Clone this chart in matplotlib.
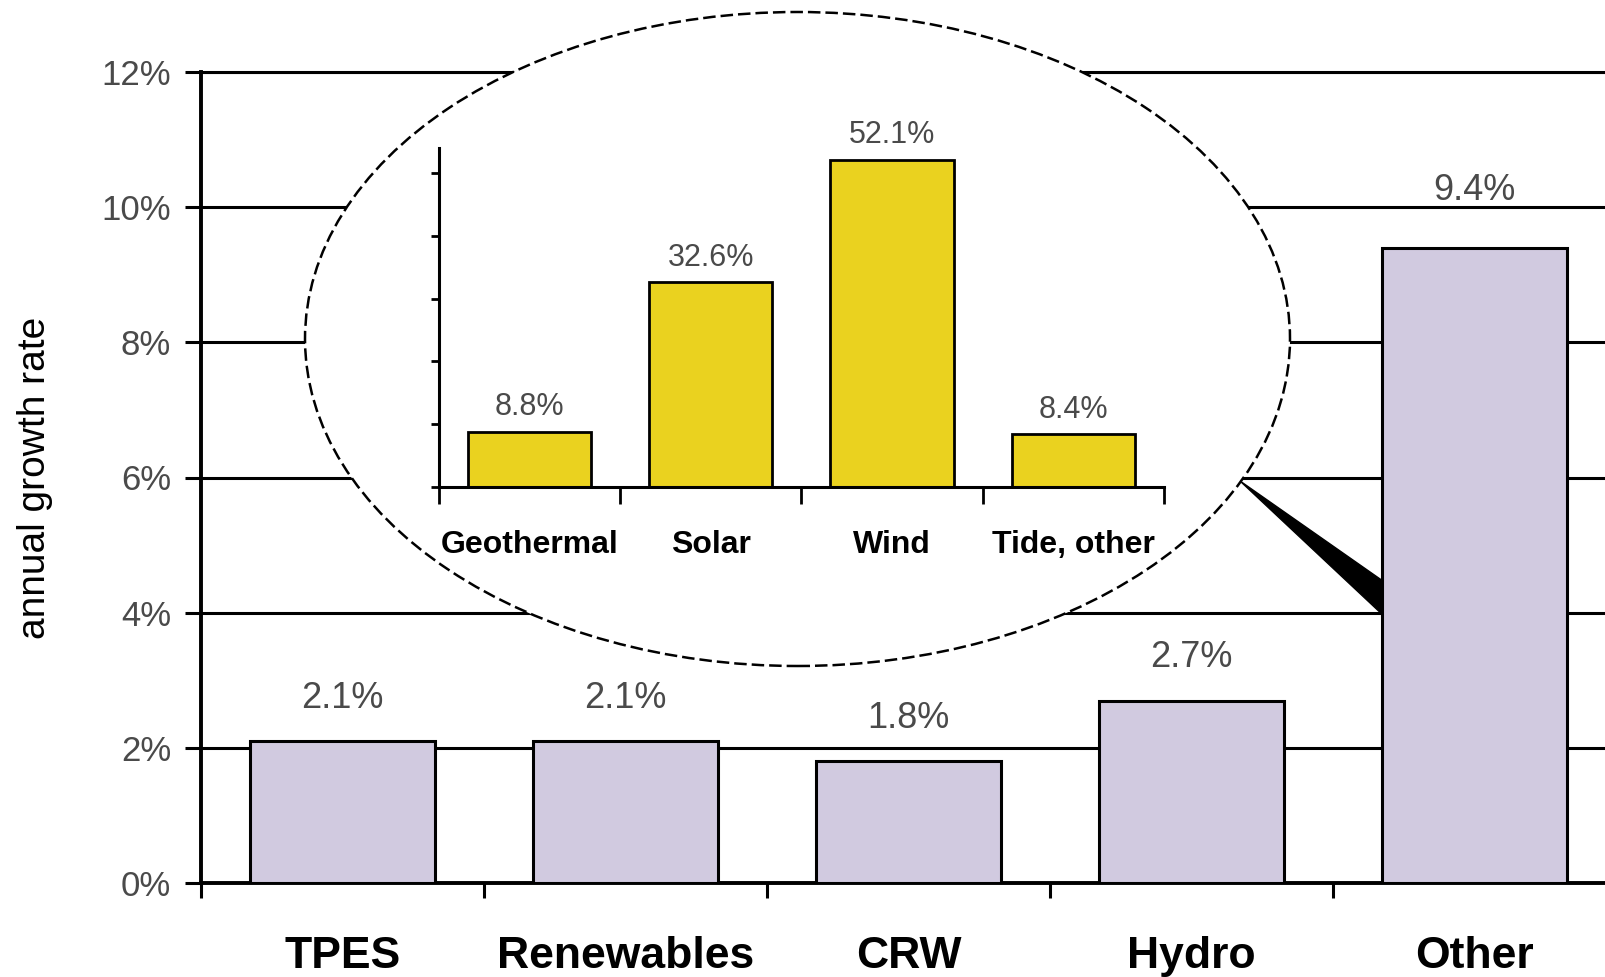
import matplotlib
matplotlib.use("Agg")
import matplotlib.pyplot as plt
from matplotlib.patches import Ellipse, Polygon

plt.rcParams["font.family"] = ["Liberation Sans", "DejaVu Sans"]

# main chart
categories = ["TPES", "Renewables", "CRW", "Hydro", "Other"]
growth = [2.1, 2.1, 1.8, 2.7, 9.4]
y_ticks = [0, 2, 4, 6, 8, 10, 12]

# inset: breakdown of "Other"
sub_categories = ["Geothermal", "Solar", "Wind", "Tide, other"]
sub_growth = [8.8, 32.6, 52.1, 8.4]

LAVENDER = "#d1cae0"
YELLOW = "#ead21f"
GREY_TXT = "#4a4a4a"

W, H = 1606, 977
fig = plt.figure(figsize=(W / 100, H / 100), dpi=100)

# --- main axes -------------------------------------------------------------
ax = fig.add_axes([201 / W, (H - 883) / H, 1415 / W, 811 / H])
x = range(len(categories))
ax.bar([i + 0.5 for i in x], growth, width=0.655, color=LAVENDER,
       edgecolor="black", linewidth=2.2, zorder=3)
ax.set_xlim(0, len(categories))
ax.set_ylim(0, 12)

ax.set_yticks(y_ticks)
ax.set_yticklabels([f"{t}%" for t in y_ticks], fontsize=25, color=GREY_TXT)
ax.set_xticks(list(range(len(categories) + 1)))
ax.set_xticklabels([])
ax.tick_params(axis="y", length=11.5, width=2.2, pad=10, direction="out")
ax.tick_params(axis="x", length=11, width=2.2, direction="out")
ax.grid(axis="y", color="black", linewidth=2.2)
ax.set_axisbelow(True)
for side in ["left", "bottom"]:
    ax.spines[side].set_linewidth(2.8)
ax.spines["top"].set_linewidth(2.2)
ax.spines["right"].set_visible(False)

for i, (name, v) in enumerate(zip(categories, growth)):
    # the tall bar's label sits clear of the 10% gridline
    pad = 34 if v > 9 else 24
    ax.annotate(f"{v:.1f}%", (i + 0.5, v), xytext=(0, pad),
                textcoords="offset points", ha="center", va="baseline",
                fontsize=26, color=GREY_TXT)
    ax.text(i + 0.5, -0.1048, name, transform=ax.get_xaxis_transform(),
            ha="center", va="baseline", fontsize=32, fontweight="bold")

fig.text(35 / W, 1 - 478 / H, "annual growth rate", rotation=90,
         ha="center", va="center", fontsize=28)

# --- callout wedge towards the "Other" bar ---------------------------------
left_other = 4 + (1 - 0.655) / 2
wedge = Polygon([(3.671, 5.95), (left_other, 4.48), (left_other, 3.98)],
                closed=True, facecolor="black", edgecolor="black",
                linewidth=1, zorder=2, clip_on=False)
ax.add_patch(wedge)

# --- ellipse bubble --------------------------------------------------------
bubble = Ellipse((797.5 / W, 1 - 339 / H), 985 / W, 654 / H,
                 transform=fig.transFigure, facecolor="white",
                 edgecolor="black", linewidth=1.8, linestyle=(0, (5, 2)),
                 zorder=1)
fig.patches.append(bubble)

# --- inset axes ------------------------------------------------------------
ins = fig.add_axes([439 / W, (H - 487) / H, 725 / W, 339 / H], zorder=2)
ins.patch.set_alpha(0)
ins.bar([i + 0.5 for i in range(len(sub_categories))], sub_growth,
        width=0.68, color=YELLOW, edgecolor="black", linewidth=2)
ins.set_xlim(0, len(sub_categories))
ins.set_ylim(0, 54)
ins.set_yticks([0, 10, 20, 30, 40, 50])
ins.set_yticklabels([])
ins.set_xticks(list(range(len(sub_categories) + 1)))
ins.set_xticklabels([])
ins.tick_params(axis="y", length=6, width=2, direction="out")
ins.tick_params(axis="x", length=12, width=2, direction="out")
for side in ["top", "right"]:
    ins.spines[side].set_visible(False)
for side in ["left", "bottom"]:
    ins.spines[side].set_linewidth(2.2)

for i, (name, v) in enumerate(zip(sub_categories, sub_growth)):
    ins.annotate(f"{v:.1f}%", (i + 0.5, v), xytext=(0, 12),
                 textcoords="offset points", ha="center", va="baseline",
                 fontsize=22, color=GREY_TXT)
    ins.text(i + 0.5, -0.1947, name, transform=ins.get_xaxis_transform(),
             ha="center", va="baseline", fontsize=23, fontweight="bold")

fig.savefig("out.png", dpi=100)
